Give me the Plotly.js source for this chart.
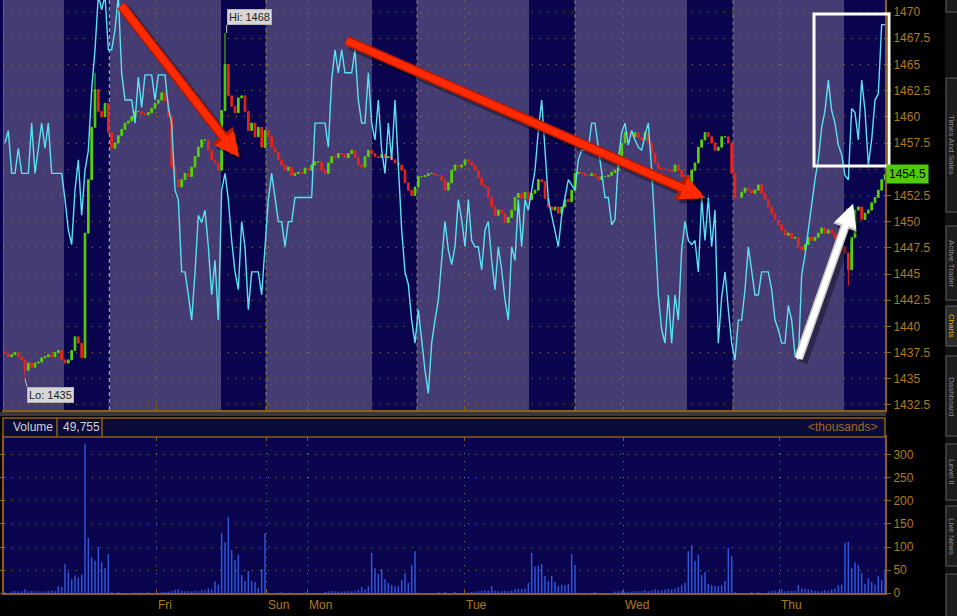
<!DOCTYPE html>
<html><head><meta charset="utf-8">
<script src="https://cdn.plot.ly/plotly-3.0.1.min.js"></script>
<style>html,body{margin:0;padding:0;background:#000;overflow:hidden}#chart{width:957px;height:616px}</style>
</head><body><div id="chart"></div>
<script>
// ---- data (≈30-min bars) ----
const closes = [
1437.4,1437.1,1437.3,1437.5,1437.1,1436.8,1435.8,1436.5,1436.1,1436.5,
1436.6,1437.0,1437.1,1437.3,1437.1,1437.5,1437.7,1436.8,1436.5,1436.8,
1437.7,1439.0,1438.4,1437.0,1448.9,1454.0,1459.0,1462.6,1460.5,1460.0,
1461.3,1458.5,1457.0,1457.5,1458.2,1458.8,1459.4,1459.6,1460.0,1460.5,
1460.5,1460.3,1460.2,1460.4,1460.8,1461.3,1461.6,1462.3,1461.5,1460.0,
1455.2,1454.0,1453.3,1454.0,1454.6,1454.3,1455.2,1456.2,1457.1,1457.8,
1457.8,1456.8,1455.9,1455.6,1454.9,1460.6,1465.0,1462.0,1461.0,1460.4,
1461.8,1462.0,1460.5,1458.7,1459.4,1458.1,1459.0,1457.1,1458.7,1458.1,
1457.1,1456.6,1455.9,1455.4,1454.9,1455.2,1454.4,1454.6,1454.7,1454.6,
1455.1,1454.9,1455.4,1455.7,1455.7,1454.9,1454.6,1455.6,1456.2,1456.1,
1456.5,1456.4,1456.1,1456.5,1456.8,1456.1,1455.4,1455.2,1456.2,1456.8,
1456.5,1456.2,1456.1,1456.4,1456.1,1456.2,1455.9,1455.6,1455.4,1454.9,
1453.7,1453.0,1452.5,1453.3,1454.3,1454.3,1454.4,1454.6,1454.6,1454.4,
1454.4,1454.0,1453.0,1453.7,1454.9,1455.4,1455.2,1455.4,1455.9,1455.7,
1455.4,1454.9,1454.2,1453.5,1453.3,1452.3,1451.4,1450.6,1451.1,1450.8,
1449.9,1450.4,1451.1,1452.3,1452.7,1452.2,1452.8,1452.1,1452.7,1453.0,
1454.0,1453.8,1452.2,1451.4,1451.1,1451.4,1450.8,1451.4,1452.1,1451.9,
1453.0,1454.6,1454.7,1454.6,1454.4,1454.4,1454.6,1454.3,1454.0,1454.3,
1454.3,1454.4,1454.7,1454.9,1455.9,1457.5,1458.5,1458.4,1458.1,1458.5,
1458.0,1457.8,1458.5,1457.5,1456.5,1455.6,1455.1,1455.0,1455.0,1454.9,
1454.8,1455.4,1454.9,1454.3,1454.4,1453.3,1454.9,1455.6,1457.1,1457.8,
1458.5,1458.1,1457.5,1456.8,1457.1,1458.1,1458.1,1457.5,1454.6,1452.3,
1452.3,1452.8,1453.2,1453.0,1452.7,1453.0,1453.5,1452.7,1452.1,1451.4,
1450.8,1450.2,1449.7,1449.2,1448.7,1448.9,1448.4,1448.5,1447.6,1447.3,
1447.8,1448.5,1448.2,1448.5,1448.9,1449.4,1448.9,1449.2,1448.9,1448.4,
1448.2,1447.6,1447.0,1445.4,1448.5,1451.1,1451.4,1450.2,1450.8,1451.1,
1451.8,1452.3,1453.0,1454.0,1454.5];
const firstOpen = 1437.6;
const extremeIdx  = [6, 27, 66, 253];
const extremeHigh = [null, 1464.2, 1468.0, null];
const extremeLow  = [1435.0, null, null, 1443.9];

const cyanLine = [
1457.5,1458.7,1454.6,1454.6,1457.0,1454.6,1454.6,1454.6,1459.4,1454.6,
1457.0,1459.4,1457.0,1459.4,1454.6,1454.6,1454.6,1454.6,1452.1,1449.2,
1447.8,1453.0,1455.9,1450.6,1454.9,1456.8,1462.6,1466.4,1471.6,1470.2,
1471.6,1466.4,1466.4,1468.3,1471.6,1464.2,1461.6,1461.6,1461.6,1459.4,
1463.8,1460.9,1464.0,1464.0,1464.0,1461.6,1464.0,1464.0,1464.0,1460.9,
1459.4,1453.0,1452.1,1445.2,1445.2,1443.0,1440.6,1445.1,1450.6,1449.9,
1451.1,1447.6,1443.0,1446.3,1440.6,1453.0,1454.6,1452.1,1448.2,1445.2,
1443.5,1450.0,1447.6,1441.6,1445.2,1445.2,1445.2,1443.0,1447.3,1452.1,
1454.6,1452.1,1450.0,1450.0,1447.6,1450.0,1450.0,1452.3,1452.3,1452.3,
1452.3,1452.3,1452.3,1459.4,1459.4,1459.4,1459.4,1457.1,1463.5,1466.4,
1464.2,1466.4,1464.2,1464.2,1464.2,1466.4,1461.6,1459.4,1459.4,1464.2,
1459.4,1457.8,1461.6,1456.8,1454.6,1459.4,1455.9,1461.6,1454.9,1449.2,
1445.2,1444.0,1440.6,1438.4,1441.6,1438.4,1435.8,1433.6,1438.4,1440.6,
1442.5,1446.3,1450.0,1447.3,1445.9,1447.6,1452.1,1450.2,1447.6,1452.1,
1448.2,1447.6,1447.6,1445.4,1449.2,1450.0,1446.3,1443.5,1447.6,1445.4,
1442.5,1440.6,1447.6,1446.3,1452.1,1447.6,1452.1,1451.1,1453.0,1454.9,
1458.7,1461.6,1456.8,1452.1,1450.6,1449.2,1447.6,1450.6,1452.5,1454.0,
1453.5,1453.0,1455.9,1456.8,1456.8,1457.0,1459.4,1459.4,1457.1,1454.9,
1452.3,1452.3,1449.7,1450.2,1455.9,1458.5,1459.4,1457.3,1458.7,1457.8,
1457.1,1456.8,1458.3,1459.4,1454.9,1449.2,1443.0,1439.7,1438.4,1443.0,
1438.4,1443.0,1440.6,1447.3,1450.0,1448.2,1447.8,1448.2,1445.2,1452.2,
1448.2,1452.3,1447.6,1451.1,1438.4,1442.8,1445.2,1441.6,1438.4,1436.8,
1440.6,1440.6,1443.5,1447.6,1445.2,1443.0,1443.0,1445.2,1445.2,1445.2,
1443.5,1440.6,1439.7,1438.4,1438.4,1442.0,1440.6,1437.3,1436.8,1444.9,
1446.8,1449.2,1452.1,1454.0,1455.9,1459.0,1460.6,1463.5,1460.6,1459.4,
1457.3,1456.4,1454.4,1454.0,1460.8,1460.4,1457.8,1463.5,1460.6,1455.4,
1457.8,1461.6,1462.2,1468.8,1468.8];

const volumes = [
2,0,3,4,4,3,8,4,4,3,
4,3,3,5,5,4,15,13,63,45,
30,38,33,40,325,120,78,70,100,67,
55,85,2,0,2,0,0,0,0,1,
1,1,0,2,0,0,1,2,2,3,
4,7,8,5,4,4,3,5,4,7,
6,10,8,25,18,130,110,165,93,72,
83,39,26,48,26,24,11,52,130,0,
0,0,1,2,0,1,1,0,0,0,
1,0,0,0,0,0,2,4,4,3,
3,3,3,4,3,5,7,13,8,15,
87,54,41,52,30,22,17,14,15,28,
43,22,61,91,1,0,0,0,0,0,
2,0,2,0,0,2,0,0,0,1,
2,3,4,5,6,5,15,5,4,4,
5,4,5,8,9,9,10,22,87,57,
59,63,37,26,37,24,15,18,17,20,
85,61,1,0,0,0,1,2,0,0,
0,0,0,3,4,5,2,3,3,4,
4,4,6,4,5,8,6,5,7,9,
8,10,13,17,22,91,104,70,83,39,
46,20,17,15,15,17,26,98,80,2,
0,0,0,0,2,0,2,0,0,3,
4,5,3,8,4,5,4,5,17,10,
9,8,7,5,4,4,6,5,8,10,
17,18,109,111,54,67,61,43,20,32,
24,18,37,28,50];

const rthSessions = [[17.7,31.5],[64.8,78.3],[110.1,123.6],[157.2,171.0],[204.6,218.4],[251.7,264.0]];
const sessionCloseIdx = [31.3, 78.3, 123.6, 171.0, 218.4];
const dayTickIdx  = [45.3, 78.3, 90.6, 137.7, 185.4, 232.2];
const dayTickText = ['Fri','Sun','Mon','Tue','Wed','Thu'];
const priceTicks  = [1432.5,1435,1437.5,1440,1442.5,1445,1447.5,1450,1452.5,1455,1457.5,1460,1462.5,1465,1467.5,1470];
const volumeTicks = [0,50,100,150,200,250,300];
const lastPrice = 1454.5;
const hiIdx = 66, hiValue = 1468;
const loIdx = 6,  loValue = 1435;
const volumeReading = '49,755';
const tabLabels = ['Times And Sales','Active Trader','Charts','Dashboard','Level II','Live News'];

// ---- build OHLC ----
const idx = closes.map((_, i) => i);
const opens = closes.map((c, i) => i === 0 ? firstOpen : closes[i - 1]);
const highs = closes.map((c, i) => Math.max(c, opens[i]));
const lows  = closes.map((c, i) => Math.min(c, opens[i]));
extremeIdx.forEach((k, j) => {
  if (extremeHigh[j] !== null) highs[k] = extremeHigh[j];
  if (extremeLow[j] !== null) lows[k] = extremeLow[j];
});

// ---- page geometry helpers (paper coords) ----
const W = 957, H = 616;
const px = x => x / W;
const py = y => 1 - y / H;
const FONT = 'Liberation Sans, Arial, sans-serif';
const ORANGE = '#8c5f19', LABEL = '#b07a1c', GRID = '#8c7646';

const traces = [
  {type:'candlestick', x:idx, open:opens, high:highs, low:lows, close:closes,
   xaxis:'x', yaxis:'y', whiskerwidth:0, hoverinfo:'skip',
   increasing:{line:{color:'#58d400', width:1}, fillcolor:'#58d400'},
   decreasing:{line:{color:'#e8261a', width:1}, fillcolor:'#e8261a'}},
  {type:'scatter', mode:'lines', x:idx, y:cyanLine, xaxis:'x', yaxis:'y',
   line:{color:'#58e2f2', width:1.4}, hoverinfo:'skip'},
  {type:'bar', x:idx, y:volumes, xaxis:'x2', yaxis:'y2', width:0.45,
   marker:{color:'#2f55d8', line:{width:0}}, hoverinfo:'skip'}
];

const shapes = [];
rthSessions.forEach(s => shapes.push({type:'rect', xref:'x', yref:'paper', x0:s[0], x1:s[1],
  y0:py(410), y1:1, fillcolor:'#0a044e', line:{width:0}, layer:'below'}));
sessionCloseIdx.forEach((v, k) => shapes.push({type:'line', xref:'x', yref:'paper', x0:v, x1:v,
  y0:py(410), y1:1, line:{color: k === 0 ? '#58e2f2' : '#7c7c7c', width:1, dash:'4px,3px'}, layer:'below'}));
shapes.push({type:'rect', xref:'paper', yref:'paper', x0:0, x1:px(3), y0:py(410), y1:1, fillcolor:'#0a044e', line:{width:0}});
shapes.push({type:'rect', xref:'paper', yref:'paper', x0:0, x1:px(886), y0:py(416), y1:py(412), fillcolor:'#383838', line:{width:0}});
shapes.push({type:'rect', xref:'paper', yref:'paper', x0:px(3), x1:px(885), y0:py(437), y1:py(418), fillcolor:'#0c0a38', line:{color:ORANGE, width:1.5}});
[57, 102].forEach(xx => shapes.push({type:'line', xref:'paper', yref:'paper', x0:px(xx), x1:px(xx), y0:py(437), y1:py(418), line:{color:ORANGE, width:1.5}}));
shapes.push({type:'rect', xref:'paper', yref:'paper', x0:px(3), x1:px(885), y0:py(593), y1:py(437), fillcolor:'#0a044e', line:{width:0}, layer:'below'});
shapes.push({type:'rect', xref:'paper', yref:'paper', x0:px(814), x1:px(889), y0:py(166), y1:py(14), line:{color:'#ffffff', width:3}, fillcolor:'rgba(0,0,0,0)'});
// right UI strip with tabs
shapes.push({type:'rect', xref:'paper', yref:'paper', x0:px(945), x1:1, y0:0, y1:1, fillcolor:'#111111', line:{width:0}});
const tabs = [[-10,12],[78,212],[226,300],[306,346],[356,436],[444,500],[506,566],[574,640]];
tabs.forEach((t, k) => shapes.push({type:'rect', xref:'paper', yref:'paper', x0:px(946), x1:px(966), y0:py(t[1]), y1:py(t[0]),
  fillcolor: k === 3 ? '#2a2a2a' : '#1c1c1c', line:{color:'#5c5c5c', width:1}}));

const annotations = [];
dayTickIdx.forEach((v, k) => annotations.push({xref:'x', yref:'paper', x:v, y:py(605), text:dayTickText[k],
  xanchor:'left', yanchor:'middle', showarrow:false, font:{family:FONT, size:12, color:LABEL}}));
annotations.push({xref:'x', yref:'y', x:hiIdx + 0.5, y:hiValue, text:'Hi: ' + hiValue, showarrow:true, arrowhead:0,
  arrowwidth:1, arrowcolor:'#c8c8c8', ax:0, ay:-8, xanchor:'left', yanchor:'bottom', bgcolor:'#d6d6d6',
  bordercolor:'#b4b4b4', borderpad:1, font:{family:FONT, size:11, color:'#1e1e1e'}});
annotations.push({xref:'x', yref:'y', x:loIdx, y:loValue, text:'Lo: ' + loValue, showarrow:true, arrowhead:0,
  arrowwidth:1, arrowcolor:'#c8c8c8', ax:2, ay:8, xanchor:'left', yanchor:'top', bgcolor:'#d6d6d6',
  bordercolor:'#b4b4b4', borderpad:1, font:{family:FONT, size:11, color:'#1e1e1e'}});
annotations.push({xref:'paper', yref:'y', x:px(886), y:lastPrice, text:lastPrice.toFixed(1), showarrow:false,
  xanchor:'left', yanchor:'middle', bgcolor:'#52cc0a', borderpad:2, font:{family:FONT, size:12, color:'#000'}});
annotations.push({xref:'paper', yref:'paper', x:px(11), y:py(427.5), text:'Volume', showarrow:false, xanchor:'left', yanchor:'middle', font:{family:FONT, size:12, color:'#d2d2d2'}});
annotations.push({xref:'paper', yref:'paper', x:px(61), y:py(427.5), text:volumeReading, showarrow:false, xanchor:'left', yanchor:'middle', font:{family:FONT, size:12, color:'#d2d2d2'}});
annotations.push({xref:'paper', yref:'paper', x:px(879), y:py(427.5), text:'&lt;thousands&gt;', showarrow:false, xanchor:'right', yanchor:'middle', font:{family:FONT, size:12, color:'#a06c1c'}});
function arrow(tail, tip, color, width, size, off) {
  off = off || 0;
  return {xref:'paper', yref:'paper', x:px(tip[0] + off), y:py(tip[1] + off), ax:tail[0] - tip[0], ay:tail[1] - tip[1],
    text:'', showarrow:true, arrowhead:2, arrowsize:size, arrowwidth:width, arrowcolor:color, standoff:0};
}
const redArrows = [[[120,4],[239,157]], [[345,40],[705,198]]];
redArrows.forEach(a => {
  annotations.push(arrow(a[0], a[1], 'rgba(0,0,0,0.35)', 11, 0.5, 4));
  annotations.push(arrow(a[0], a[1], '#b81a00', 10, 0.55));
  annotations.push(arrow(a[0], a[1], '#ff2a00', 7, 0.68));
});
const whiteArrow = [[798,360],[853,204]];
annotations.push(arrow(whiteArrow[0], whiteArrow[1], 'rgba(0,0,0,0.35)', 10, 0.5, 4));
annotations.push(arrow(whiteArrow[0], whiteArrow[1], '#c8c8c8', 9, 0.55));
annotations.push(arrow(whiteArrow[0], whiteArrow[1], '#ffffff', 6, 0.75));
// right UI tab labels, kept small so they stay inside the strip
const tabCenters = [145, 263, 326, 396, 472, 536];
tabLabels.forEach((t, k) => annotations.push({xref:'paper', yref:'paper', x:px(952), y:py(tabCenters[k]), text:t, textangle:90,
  xanchor:'center', yanchor:'middle', showarrow:false, font:{family:FONT, size:8, color: t === 'Charts' ? '#e0b400' : '#8a8a8a'}}));

const axisCommon = {zeroline:false, fixedrange:true};
const layout = {
  width:W, height:H, margin:{l:0, r:0, t:0, b:0}, paper_bgcolor:'#000', plot_bgcolor:'#443c73',
  showlegend:false, hovermode:false, font:{family:FONT},
  xaxis:Object.assign({domain:[px(4), px(885)], range:[-0.3, 264], anchor:'y', tickvals:dayTickIdx,
    showticklabels:false, ticks:'inside', ticklen:4, tickcolor:ORANGE, showline:true, linecolor:ORANGE, linewidth:2,
    showgrid:true, gridcolor:GRID, griddash:'1px,7px', rangeslider:{visible:false}}, axisCommon),
  yaxis:Object.assign({domain:[py(410), 1], range:[1432.02, 1471.15], anchor:'x', side:'right',
    tickvals:priceTicks, ticktext:priceTicks.map(v => v === lastPrice + 0.5 ? '' : ((v % 1) ? v.toFixed(1) : String(v))),
    ticks:'outside', ticklen:4, tickcolor:ORANGE, showline:true, linecolor:ORANGE, linewidth:2, mirror:'ticks',
    showgrid:true, gridcolor:GRID, griddash:'1px,7px', tickfont:{family:FONT, size:12, color:LABEL}}, axisCommon),
  xaxis2:Object.assign({domain:[px(4), px(885)], matches:'x', anchor:'y2', tickvals:dayTickIdx,
    showticklabels:false, ticks:'inside', ticklen:4, tickcolor:ORANGE, showline:true, linecolor:ORANGE, linewidth:2,
    mirror:'ticks', showgrid:true, gridcolor:GRID, griddash:'1px,7px', rangeslider:{visible:false}}, axisCommon),
  yaxis2:Object.assign({domain:[py(593), py(437)], range:[0, 339.1], anchor:'x2', side:'right',
    tickvals:volumeTicks, ticks:'outside', ticklen:4, tickcolor:ORANGE, showline:true, linecolor:ORANGE, linewidth:2,
    mirror:'ticks', showgrid:true, gridcolor:GRID, griddash:'1px,7px', tickfont:{family:FONT, size:12, color:LABEL}}, axisCommon),
  shapes:shapes, annotations:annotations
};

Plotly.newPlot('chart', traces, layout, {displayModeBar:false, staticPlot:true});
</script></body></html>
